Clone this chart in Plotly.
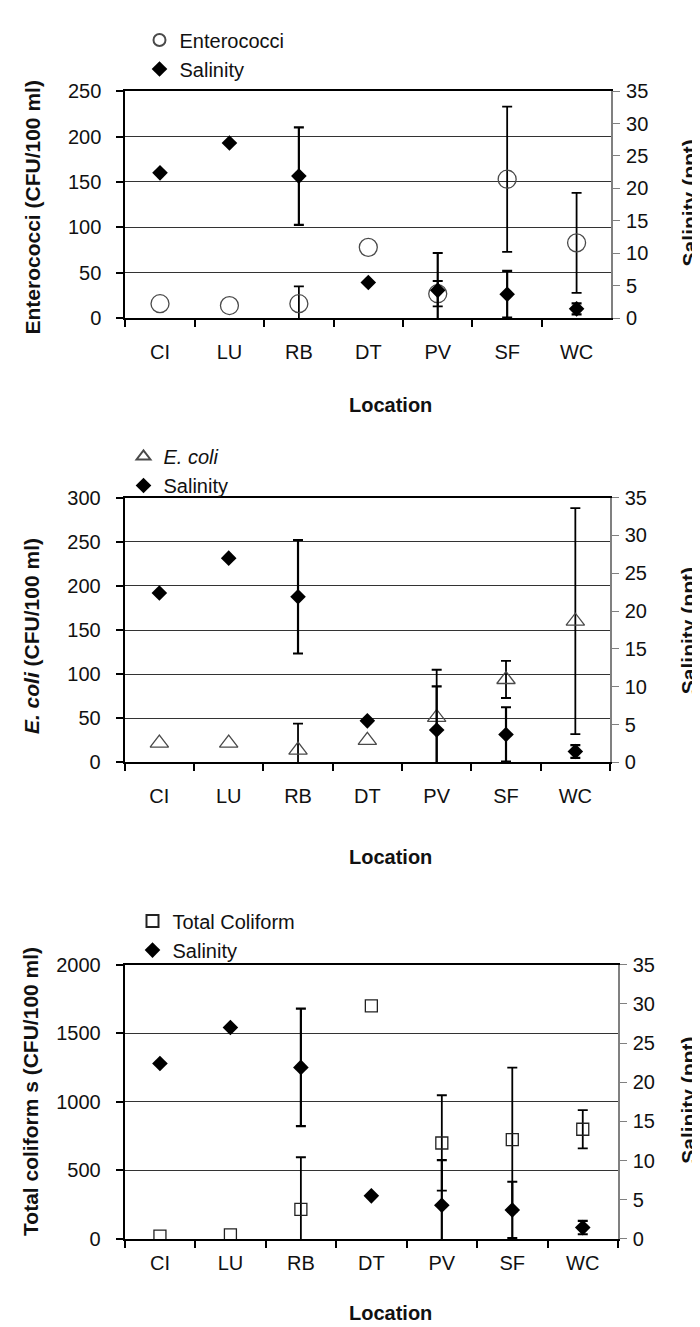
import plotly.graph_objects as go

# ---------------- data ----------------
categories = ["CI", "LU", "RB", "DT", "PV", "SF", "WC"]

salinity = [22.4, 27.0, 21.9, 5.5, 4.3, 3.7, 1.45]
salinity_err = [None, None, 7.5, None, 5.75, 3.6, 0.85]

enterococci = [16, 14, 16, 78, 27, 153, 83]
enterococci_err = [None, None, 19, None, 14, 80, 55]

ecoli = [22, 22, 14, 25, 51, 94, 160]
ecoli_err = [None, None, 30, None, 54, 21, 128]

total_coliform = [20, 30, 215, 1700, 700, 724, 800]
total_coliform_err = [None, None, 381, None, 348, 526, 140]

left_titles = ["<b>Enterococci (CFU/100 ml)</b>",
               "<b><i>E. coli</i> (CFU/100 ml)</b>",
               "<b>Total coliform s (CFU/100 ml)</b>"]
left_ranges = [[0, 250], [0, 300], [0, 2000]]
left_dticks = [50, 50, 500]
right_range = [0, 35]
right_dtick = 5

# ---------------- layout geometry (pixels) ----------------
W, H = 700, 1327
FONT = "Liberation Sans, Arial, sans-serif"


def fx(v):
    return v / W


def fy(v):
    return 1 - v / H


def with_err(vals, errs):
    """Only the points that carry an error bar."""
    keep = [k for k, e in enumerate(errs) if e is not None]
    return ([categories[k] for k in keep], [vals[k] for k in keep],
            [errs[k] for k in keep])


panels = [
    dict(l=117.3, r=603.3, t=73.3, b=304.3, standoff=15,
         ltx=25, lty=191.7, rtx=681, rty=187.5, loc_y=393,
         leg_x=131.5, leg_y=1.5),
    dict(l=116.7, r=602.0, t=486.7, b=756.0, standoff=15,
         ltx=23, lty=627.5, rtx=680, rty=622.5, loc_y=852,
         leg_x=115.5, leg_y=425),
    dict(l=116.7, r=610.0, t=961.7, b=1240.5, standoff=5,
         ltx=23, lty=1091, rtx=681, rty=1100, loc_y=1316,
         leg_x=124.5, leg_y=897.5),
]

series = [
    ("Enterococci", enterococci, enterococci_err,
     dict(symbol="circle-open", size=18, color="#4a4a4a", line=dict(width=1.3))),
    ("<i>E. coli</i>", ecoli, ecoli_err,
     dict(symbol="triangle-up-open", size=16, color="#4a4a4a", line=dict(width=1.3))),
    ("Total Coliform", total_coliform, total_coliform_err,
     dict(symbol="square-open", size=12, color="#222222", line=dict(width=1.3))),
]

fig = go.Figure()
layout = dict(
    width=W, height=H,
    margin=dict(l=0, r=0, t=0, b=0),
    paper_bgcolor="white", plot_bgcolor="white",
    font=dict(family=FONT, size=20, color="#111111"),
    showlegend=True,
    annotations=[],
)

invisible = dict(size=1, color="rgba(0,0,0,0)")

for i, p in enumerate(panels):
    n = i + 1
    xa = "x" if n == 1 else f"x{n}"
    ya_l = "y" if n == 1 else f"y{2 * n - 1}"
    ya_r = f"y{2 * n}"
    leg = "legend" if n == 1 else f"legend{n}"

    name, vals, errs, marker = series[i]

    # error bars of the indicator (only where they exist)
    ex, ey, ee = with_err(vals, errs)
    fig.add_trace(go.Scatter(
        x=ex, y=ey, mode="markers", marker=invisible, showlegend=False,
        hoverinfo="skip", xaxis=xa, yaxis=ya_l, legend=leg,
        error_y=dict(type="data", array=ee, visible=True,
                     color="black", thickness=1.8, width=5),
    ))
    fig.add_trace(go.Scatter(
        x=categories, y=vals, mode="markers", name=name,
        marker=marker, xaxis=xa, yaxis=ya_l, legend=leg,
    ))

    # salinity error bars then markers
    sx, sy, se = with_err(salinity, salinity_err)
    fig.add_trace(go.Scatter(
        x=sx, y=sy, mode="markers", marker=invisible, showlegend=False,
        hoverinfo="skip", xaxis=xa, yaxis=ya_r, legend=leg,
        error_y=dict(type="data", array=se, visible=True,
                     color="black", thickness=2.2, width=5),
    ))
    fig.add_trace(go.Scatter(
        x=categories, y=salinity, mode="markers", name="Salinity",
        marker=dict(symbol="diamond", size=12, color="black"),
        xaxis=xa, yaxis=ya_r, legend=leg,
    ))

    xkey = "xaxis" if n == 1 else f"xaxis{n}"
    ylkey = "yaxis" if n == 1 else f"yaxis{2 * n - 1}"
    yrkey = f"yaxis{2 * n}"

    layout[xkey] = dict(
        domain=[fx(p["l"]), fx(p["r"])], anchor=ya_l, type="category",
        categoryorder="array", categoryarray=categories,
        range=[-0.5, 6.5], tickson="boundaries", ticks="outside",
        ticklen=7, tickwidth=1.5, tickcolor="black",
        showline=True, linecolor="black", linewidth=2, mirror=True,
        showgrid=False, zeroline=False,
        ticklabelstandoff=p["standoff"],
        tickfont=dict(size=20, color="#111111"),
    )
    layout[ylkey] = dict(
        domain=[fy(p["b"]), fy(p["t"])], anchor=xa,
        range=left_ranges[i], dtick=left_dticks[i], tick0=0,
        showgrid=True, gridcolor="#333333", gridwidth=1.2,
        showline=True, linecolor="black", linewidth=2,
        ticks="outside", ticklen=7, tickwidth=1.5, tickcolor="black",
        zeroline=False, tickfont=dict(size=20, color="#111111"),
        ticklabelstandoff=11,
    )
    layout[yrkey] = dict(
        domain=[fy(p["b"]), fy(p["t"])], anchor=xa, overlaying=ya_l,
        side="right", range=right_range, dtick=right_dtick, tick0=0,
        showgrid=False, showline=True, linecolor="#808080", linewidth=1.5,
        ticks="outside", ticklen=7, tickwidth=1.2, tickcolor="#808080",
        zeroline=False, tickfont=dict(size=20, color="#111111"),
        ticklabelstandoff=2,
    )
    layout[leg] = dict(
        x=fx(p["leg_x"]), y=fy(p["leg_y"]), xanchor="left", yanchor="top",
        bgcolor="rgba(0,0,0,0)", font=dict(size=20, color="#111111"),
        itemsizing="constant", tracegroupgap=0, orientation="v",
    )

    layout["annotations"] += [
        dict(text=left_titles[i], x=fx(p["ltx"]), y=fy(p["lty"]),
             xref="paper", yref="paper", showarrow=False, textangle=-90,
             xanchor="center", yanchor="middle",
             font=dict(size=21, color="#111111")),
        dict(text="<b>Salinity (ppt)</b>", x=fx(p["rtx"]), y=fy(p["rty"]),
             xref="paper", yref="paper", showarrow=False, textangle=-90,
             xanchor="center", yanchor="middle",
             font=dict(size=21, color="#111111")),
        dict(text="<b>Location</b>", x=fx(382), y=fy(p["loc_y"]),
             xref="paper", yref="paper", showarrow=False,
             xanchor="center", yanchor="middle",
             font=dict(size=20, color="#111111")),
    ]

fig.update_layout(**layout)
fig.write_html("out.html")
